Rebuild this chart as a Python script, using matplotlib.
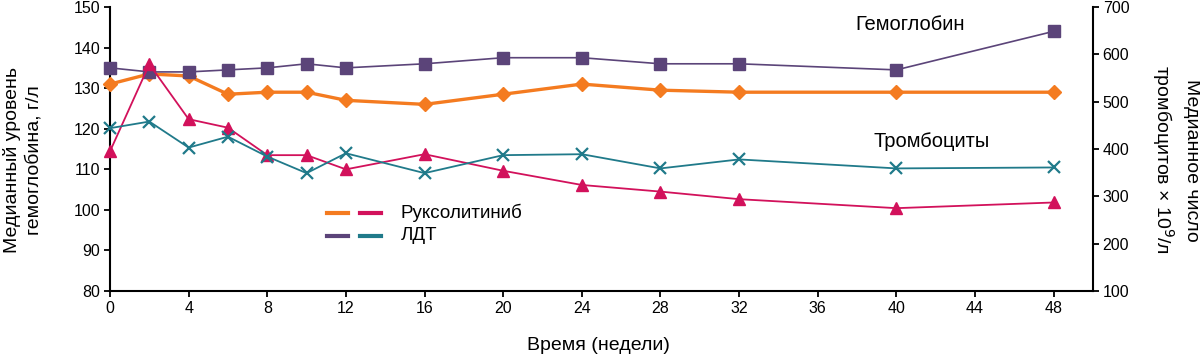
import matplotlib
matplotlib.use("Agg")
import matplotlib.pyplot as plt
from matplotlib.lines import Line2D

plt.rcParams['font.family'] = ['Liberation Sans', 'DejaVu Sans']

weeks = [0, 2, 4, 6, 8, 10, 12, 16, 20, 24, 28, 32, 40, 48]
hb_rux = [131, 133.5, 133, 128.5, 129, 129, 127, 126, 128.5, 131, 129.5, 129, 129, 129]
hb_bat = [135, 134, 134, 134.5, 135, 136, 135, 136, 137.5, 137.5, 136, 136, 134.5, 144]
plt_rux = [395, 579, 463, 445, 387, 387, 357, 389, 354, 324, 310, 294, 275, 287]
plt_bat = [444, 458, 403, 426, 384, 349, 391, 349, 387, 389, 359, 378, 359, 361]

xticks = list(range(0, 49, 4))
yticks_left = list(range(80, 151, 10))
yticks_right = list(range(100, 701, 100))

c_orange = "#F47B20"
c_purple = "#5B4479"
c_pink = "#D2115B"
c_teal = "#207A8A"

fig = plt.figure(figsize=(12, 3.57), dpi=100)
ax = fig.add_axes([110/1200, 1-291/357, (1093-110)/1200, (291-7)/357])
ax2 = ax.twinx()

ax.plot(weeks, hb_rux, color=c_orange, lw=2.4, marker='D', ms=7, clip_on=False, zorder=3)
ax.plot(weeks, hb_bat, color=c_purple, lw=1.2, marker='s', ms=9, clip_on=False, zorder=3)
ax2.plot(weeks, plt_rux, color=c_pink, lw=1.3, marker='^', ms=9, clip_on=False, zorder=3)
ax2.plot(weeks, plt_bat, color=c_teal, lw=1.3, marker='x', ms=9, mew=1.6, clip_on=False, zorder=3)

ax.set_xlim(0, 50)
ax.set_ylim(80, 150)
ax2.set_ylim(100, 700)
ax.set_xticks(xticks)
ax.set_yticks(yticks_left)
ax2.set_yticks(yticks_right)

for a in (ax, ax2):
    a.spines['top'].set_visible(False)
    for s in a.spines.values():
        s.set_linewidth(1.5)
    a.tick_params(direction='out', length=4, width=1.3, labelsize=11.5, pad=3)
ax.spines['right'].set_visible(False)
ax2.spines['left'].set_visible(False)
ax2.spines['bottom'].set_visible(False)

fig.text(23/1200, 1-160/357, "Медианный уровень\nгемоглобина, г/л", rotation=90,
         ha='center', va='center', multialignment='center', fontsize=14, linespacing=1.35)
fig.text(1175/1200, 1-160/357, "Медианное число\nтромбоцитов × 10$^9$/л", rotation=270,
         ha='center', va='center', multialignment='center', fontsize=14, linespacing=1.35)
fig.text(598/1200, 1-345/357, "Время (недели)", ha='center', va='center', fontsize=14)

ax.text(40.7, 145.6, "Гемоглобин", ha='center', va='center', fontsize=14.5)
ax.text(41.8, 116.8, "Тромбоциты", ha='center', va='center', fontsize=14.5)

# legend drawn in axes fraction
def fx(px):
    return (px - 110) / 983
def fy(py):
    return (291 - py) / 284
for row_y, (c1, c2), label in [(213, (c_orange, c_pink), "Руксолитиниб"),
                               (236, (c_purple, c_teal), "ЛДТ")]:
    ax.add_line(Line2D([fx(327), fx(348)], [fy(row_y)] * 2, color=c1, lw=3.0,
                       transform=ax.transAxes, clip_on=False))
    ax.add_line(Line2D([fx(360), fx(381)], [fy(row_y)] * 2, color=c2, lw=3.0,
                       transform=ax.transAxes, clip_on=False))
    ax.text(fx(401), fy(row_y), label, transform=ax.transAxes, ha='left', va='center',
            fontsize=13.5)

fig.savefig("out.png", dpi=100)
